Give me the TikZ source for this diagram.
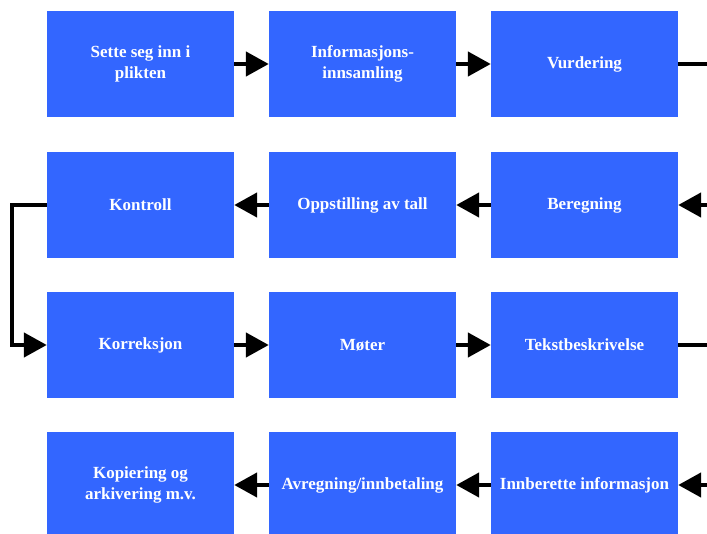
\documentclass[tikz,border=0pt]{standalone}
\usepackage{fontspec}
\setmainfont{Liberation Serif}
\usetikzlibrary{arrows.meta}
\definecolor{boxblue}{HTML}{3366FF}
\tikzset{
  stepbox/.style={rectangle, fill=boxblue, draw=none, minimum width=187pt, minimum height=106pt, inner sep=0pt,
    text=white, font=\fontsize{17}{21}\selectfont\bfseries, align=center},
  conn/.style={line width=4.5pt, -{Triangle[length=23pt,width=24pt]}}
}
\begin{document}
\begin{tikzpicture}[x=1pt,y=-1pt]
\useasboundingbox (0,0) rectangle (707,533);
\clip (0,0) rectangle (707,533);
% row 1
\node[stepbox] (s1) at (140.5,64) {Sette seg inn i\\plikten};
\node[stepbox] (s2) at (362.5,64) {Informasjons-\\innsamling};
\node[stepbox] (s3) at (584.5,64) {Vurdering};
% row 2
\node[stepbox] (s4) at (584.5,205) {Beregning};
\node[stepbox] (s5) at (362.5,205) {Oppstilling av tall};
\node[stepbox] (s6) at (140.5,205) {Kontroll};
% row 3
\node[stepbox] (s7) at (140.5,345) {Korreksjon};
\node[stepbox] (s8) at (362.5,345) {Møter};
\node[stepbox] (s9) at (584.5,345) {Tekstbeskrivelse};
% row 4
\node[stepbox] (s10) at (584.5,485) {Innberette informasjon};
\node[stepbox] (s11) at (362.5,485) {Avregning/innbetaling};
\node[stepbox] (s12) at (140.5,485) {Kopiering og\\arkivering m.v.};
% connectors
\draw[conn] (s1.east) -- (s2.west);
\draw[conn] (s2.east) -- (s3.west);
\draw[conn] (s3.east) -- ++(60,0) |- (s4.east);
\draw[conn] (s4.west) -- (s5.east);
\draw[conn] (s5.west) -- (s6.east);
\draw[conn] (s6.west) -- ++(-35,0) |- (s7.west);
\draw[conn] (s7.east) -- (s8.west);
\draw[conn] (s8.east) -- (s9.west);
\draw[conn] (s9.east) -- ++(60,0) |- (s10.east);
\draw[conn] (s10.west) -- (s11.east);
\draw[conn] (s11.west) -- (s12.east);
\end{tikzpicture}
\end{document}
